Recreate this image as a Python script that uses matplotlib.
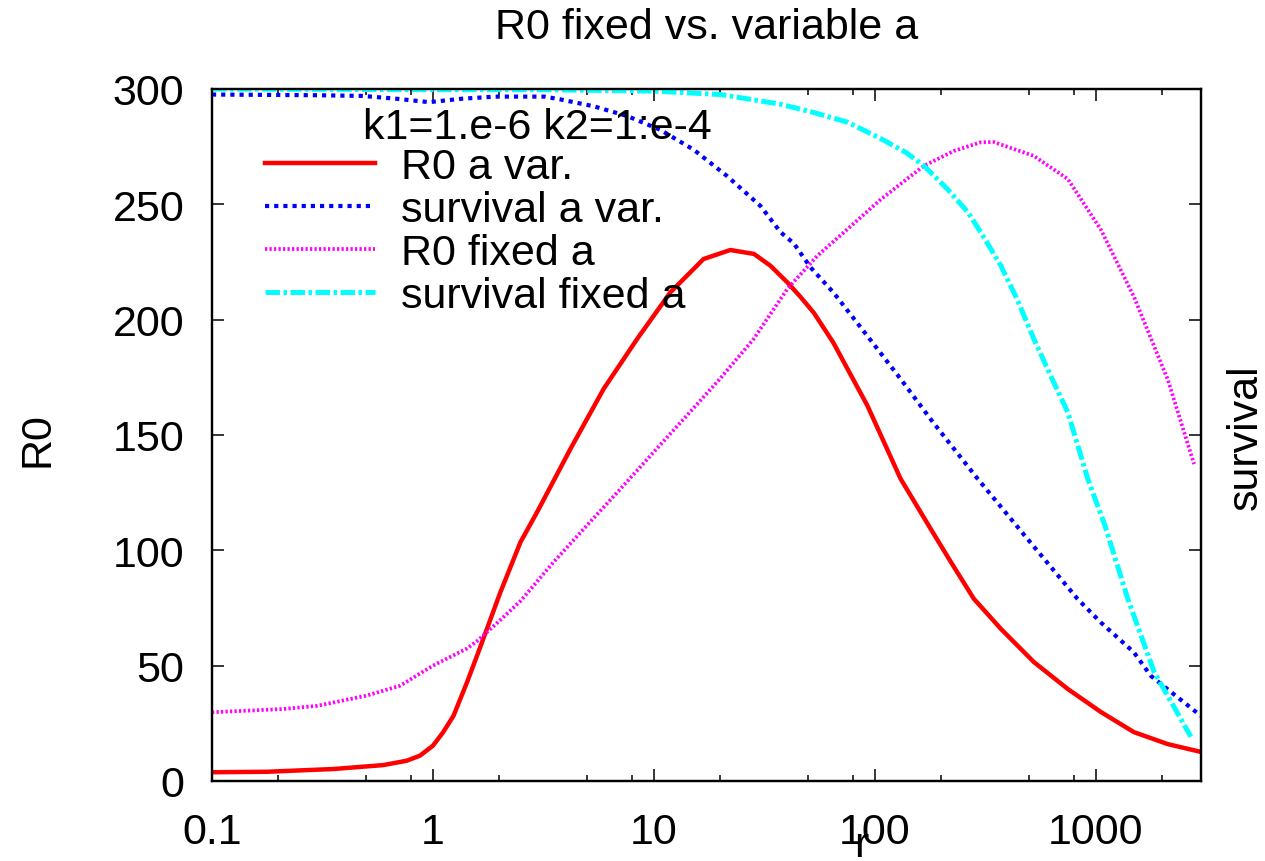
import numpy as np
import matplotlib.pyplot as plt
from matplotlib.ticker import LogLocator, FixedLocator, FixedFormatter, NullFormatter

plt.rcParams['font.family'] = ['Liberation Sans', 'DejaVu Sans']

# R0 with variable a
r_red = [0.1, 0.177, 0.355, 0.597, 0.762, 0.874, 1.0, 1.11, 1.24, 1.43, 1.63, 2.02, 2.49,
         2.96, 4.19, 5.93, 8.4, 11.9, 16.8, 22.2, 28.4, 33.7, 40.2, 46, 53, 65, 92.7,
         131, 180, 221, 281, 373, 525, 748, 1057, 1490, 2120, 3000]
R0_var = [3.8, 4.0, 5.2, 6.9, 8.8, 11, 15.3, 21, 28.3, 43, 57.5, 81.8, 103.5,
          116.5, 143.9, 170, 191.6, 211.9, 226.3, 230.2, 228.5, 223.4, 216.2, 210, 203, 190, 162.7,
          131, 109, 95, 79, 65.9, 51.6, 39.9, 29.9, 21.2, 16, 12.6]

# survival with variable a
r_blue = [0.1, 0.3, 0.48, 0.68, 0.96, 1.36, 1.92, 3.2, 3.77, 5.35, 7.57, 10.7, 15.2,
          21.5, 30.4, 37.5, 43, 51.3, 65, 92.7, 131, 184, 292, 500, 829, 1057, 1490,
          1778, 3000]
surv_var = [0.992, 0.991, 0.990, 0.986, 0.981, 0.986, 0.989, 0.989, 0.985, 0.975, 0.961,
            0.941, 0.912, 0.874, 0.831, 0.793, 0.777, 0.742, 0.706, 0.643, 0.581, 0.518,
            0.437, 0.347, 0.263, 0.229, 0.186, 0.152, 0.094]

# R0 with fixed a
r_mag = [0.1, 0.21, 0.3, 0.5, 0.71, 1.0, 1.43, 1.6, 2.02, 2.49, 3.51, 4.97, 7.06, 9.97,
         14.1, 19.9, 28.3, 40.2, 55, 75.4, 107, 167, 229, 302, 346, 525, 748, 1057,
         1490, 2122, 2790]
R0_fix = [29.8, 31.2, 32.6, 37, 41.3, 50, 57.5, 61, 69.8, 78, 94.8, 110.7, 126.6, 142.5,
          158.4, 174.3, 191.6, 213.3, 227.7, 239.3, 252.3, 266.7, 273.2, 276.9, 277, 271, 261, 239,
          210, 174, 137.4]

# survival with fixed a
r_cyan = [0.1, 1, 3, 10, 20.1, 37.5, 53, 75.4, 107, 139, 167, 214, 264, 302, 372, 440,
          525, 625, 748, 923, 1100, 1400, 1838, 2700]
surv_fix = [1.0, 0.999, 0.999, 0.997, 0.992, 0.978, 0.966, 0.952, 0.928, 0.908, 0.889,
            0.855, 0.822, 0.793, 0.745, 0.697, 0.639, 0.586, 0.533, 0.436, 0.37, 0.263,
            0.158, 0.064]

xticks = [0.1, 1, 10, 100, 1000]
xticklabels = ['0.1', '1', '10', '100', '1000']
yticks = [0, 50, 100, 150, 200, 250, 300]

fig = plt.figure(figsize=(12.65, 8.62), dpi=100)
ax = fig.add_axes([212/1265, 80/862, 989/1265, 692/862])
ax2 = ax.twinx()

l1, = ax.plot(r_red, R0_var, color='red', lw=3.2, label='R0 a var.')
l3, = ax.plot(r_mag, R0_fix, color='magenta', lw=2.7, dashes=(0.6, 0.6), label='R0 fixed a')
l2, = ax2.plot(r_blue, surv_var, color='blue', lw=3.0, dashes=(1.0, 1.2), label='survival a var.')
l4, = ax2.plot(r_cyan, surv_fix, color='cyan', lw=3.6, dashes=(2.9, 0.7, 0.7, 0.7), label='survival fixed a')

ax.set_xscale('log')
ax.set_xlim(0.1, 3000)
ax.set_ylim(0, 300)
ax2.set_ylim(0, 1)
ax2.set_yticks([])

ax.xaxis.set_major_locator(FixedLocator(xticks))
ax.xaxis.set_major_formatter(FixedFormatter(xticklabels))
ax.xaxis.set_minor_locator(LogLocator(base=10, subs=(2, 5, 8)))
ax.xaxis.set_minor_formatter(NullFormatter())
ax.set_yticks(yticks)

ax.tick_params(which='major', direction='in', length=8.6, width=1.1, labelsize=31,
               top=True, right=True)
ax.tick_params(which='minor', direction='in', length=4.3, width=1.1, top=True)
ax.tick_params(axis='y', pad=20)
ax.tick_params(axis='x', pad=22)
for a in (ax, ax2):
    for s in a.spines.values():
        s.set_linewidth(1.6)

fig.text(707/1265, 1 - 28/862, 'R0 fixed vs. variable a', fontsize=31, ha='center', va='center')
fig.text(38/1265, 1 - 440/862, 'R0', fontsize=31, rotation=90, ha='center', va='center')
fig.text(1246/1265, 1 - 437/862, 'survival', fontsize=31, rotation=90, ha='center', va='center')
fig.text(861/1265, 1 - 846/862, 'r', fontsize=31, ha='center', va='center')

# key with its title line above the entries
ax2.text((537-212)/989, (782-128)/692, 'k1=1.e-6 k2=1:e-4', fontsize=31,
         ha='center', va='center', transform=ax2.transAxes)
ax2.legend(handles=[l1, l2, l3, l4], loc='upper left', bbox_to_anchor=((265-212)/989, (782-148)/692),
           frameon=False, fontsize=31, handlelength=2.55, handletextpad=0.6,
           labelspacing=0.07, borderpad=0, borderaxespad=0)

fig.savefig('out.png', dpi=100)
